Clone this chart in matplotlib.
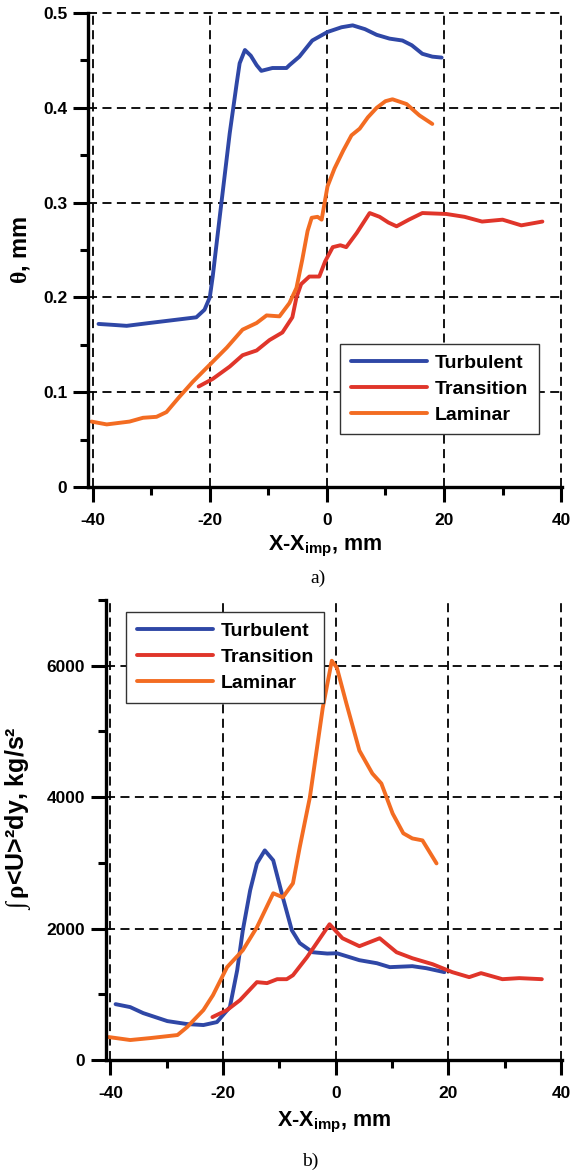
import numpy as np
import matplotlib
matplotlib.use('Agg')
import matplotlib.pyplot as plt
from matplotlib.ticker import MultipleLocator, FuncFormatter

plt.rcParams['font.family'] = ['Liberation Sans', 'DejaVu Sans']
plt.rcParams['font.weight'] = 'bold'
plt.rcParams['axes.labelweight'] = 'bold'
plt.rcParams['axes.unicode_minus'] = False
# plain parts of mixed labels bold, greek / integral thin
plt.rcParams['mathtext.fontset'] = 'custom'
plt.rcParams['mathtext.rm'] = 'Liberation Sans:bold'
plt.rcParams['mathtext.bf'] = 'Liberation Sans:bold'
plt.rcParams['mathtext.sf'] = 'Liberation Serif'
plt.rcParams['mathtext.it'] = 'Liberation Sans:italic'

labels = ['Turbulent', 'Transition', 'Laminar']
colors = ['#2f47a6', '#e0352a', '#f36c22']

# a) momentum thickness, mm
turb_a_x = [-39, -36.5, -34.2, -30.3, -26.3, -22.3, -20.9, -20.0, -19.5, -18.3, -16.6, -15.4,
            -14.9, -14.0, -13.0, -12.0, -11.2, -9.3, -6.9, -6.4, -4.7, -2.5, 0.1, 2.5, 4.4,
            6.5, 8.5, 10.7, 12.9, 14.5, 16.3, 18.0, 19.6]
turb_a_y = [0.172, 0.171, 0.170, 0.173, 0.176, 0.179, 0.187, 0.200, 0.222, 0.285, 0.373, 0.426,
            0.447, 0.461, 0.455, 0.445, 0.439, 0.442, 0.442, 0.445, 0.454, 0.471, 0.480, 0.485,
            0.487, 0.483, 0.477, 0.473, 0.471, 0.466, 0.457, 0.454, 0.453]

trans_a_x = [-21.9, -19.5, -16.6, -14.4, -12.0, -9.8, -7.6, -5.9, -5.2, -4.4, -3.0, -1.3, -0.3,
             1.0, 2.3, 3.3, 5.1, 7.3, 9.0, 10.5, 11.9, 14.0, 16.3, 20.4, 23.5, 26.5, 30.0,
             33.2, 36.8]
trans_a_y = [0.106, 0.114, 0.127, 0.139, 0.144, 0.155, 0.163, 0.179, 0.200, 0.214, 0.222, 0.222,
             0.238, 0.253, 0.255, 0.253, 0.268, 0.289, 0.285, 0.279, 0.275, 0.282, 0.289, 0.288,
             0.285, 0.280, 0.282, 0.276, 0.280]

lam_a_x = [-40.2, -37.6, -33.7, -31.4, -29.1, -27.4, -25.2, -22.9, -20.0, -17.1, -14.4, -12.0,
           -10.3, -8.1, -6.4, -5.2, -4.2, -3.3, -2.6, -1.6, -0.9, 0.1, 1.3, 2.8, 4.2, 5.6, 7.0,
           8.5, 10.0, 11.2, 13.6, 15.8, 18.0]
lam_a_y = [0.069, 0.066, 0.069, 0.073, 0.074, 0.079, 0.095, 0.111, 0.129, 0.147, 0.166, 0.173,
           0.181, 0.180, 0.194, 0.210, 0.240, 0.270, 0.284, 0.285, 0.282, 0.317, 0.336, 0.355,
           0.371, 0.378, 0.390, 0.400, 0.407, 0.409, 0.404, 0.392, 0.383]

# b) integral of rho<U>^2 dy, kg/s^2
turb_b_x = [-39.1, -36.5, -34.2, -29.9, -26.4, -23.5, -21.1, -18.8, -17.5, -16.5, -15.2, -14.0,
            -12.6, -11.1, -9.4, -7.8, -6.4, -4.1, -1.5, 0.2, 4.2, 7.3, 9.6, 13.6, 16.1, 19.3]
turb_b_y = [850, 805, 714, 592, 547, 532, 577, 805, 1367, 1975, 2582, 2992,
            3190, 3038, 2476, 1975, 1780, 1640, 1620, 1625, 1519, 1473, 1413, 1428, 1397, 1337]

trans_b_x = [-21.9, -19.3, -17.0, -14.0, -12.2, -10.4, -8.7, -7.6, -5.1, -3.4, -1.1, 1.2, 4.2,
             7.8, 10.8, 13.6, 17.2, 20.7, 23.7, 25.8, 29.6, 32.6, 36.6]
trans_b_y = [653, 760, 911, 1185, 1170, 1230, 1230, 1290, 1565, 1777, 2066, 1853, 1732,
             1853, 1640, 1549, 1458, 1337, 1261, 1322, 1230, 1246, 1230]

lam_b_x = [-40.3, -36.5, -32.9, -28.1, -26.4, -23.5, -21.8, -19.3, -16.5, -14.0, -11.1, -9.4,
           -7.6, -6.4, -4.6, -2.3, -0.7, 0.2, 1.9, 4.2, 6.5, 8.1, 10.1, 12.0, 13.6, 15.4, 17.9]
lam_b_y = [349, 304, 334, 380, 501, 760, 987, 1413, 1671, 2020, 2537, 2476,
           2689, 3236, 3995, 5362, 6076, 5970, 5423, 4709, 4360, 4208, 3752, 3450, 3372, 3342, 2992]


def style_axes(ax):
    for s in ['top', 'right']:
        ax.spines[s].set_visible(False)
    for s in ['left', 'bottom']:
        ax.spines[s].set_linewidth(2.4)
    ax.set_xlim(-40.8, 40.15)
    ax.xaxis.set_major_locator(MultipleLocator(20))
    ax.xaxis.set_minor_locator(MultipleLocator(10))
    ax.yaxis.set_major_formatter(FuncFormatter(lambda v, p: '%g' % v))
    ax.tick_params(which='major', direction='out', length=11, width=2.2, labelsize=12.5)
    ax.tick_params(which='minor', direction='out', length=6, width=2.2)
    ax.tick_params(axis='x', which='major', pad=8)
    ax.tick_params(axis='y', which='major', pad=4)
    ax.grid(True, which='major', color='k', linestyle=(0, (5, 3)), linewidth=1.3)
    ax.set_axisbelow(True)
    for gl in ax.get_xgridlines() + ax.get_ygridlines():
        gl.set_clip_on(False)
    ax.set_xlabel(r'X-X$_{\mathbf{imp}}$, mm', fontsize=15.5)


def add_legend(ax, anchor):
    leg = ax.legend(loc='upper left', bbox_to_anchor=anchor, fontsize=14, frameon=True,
                    fancybox=False, edgecolor='#333333', framealpha=1, handlelength=3.9,
                    handletextpad=0.4, labelspacing=0.42, borderpad=0.55, borderaxespad=0)
    leg.get_frame().set_linewidth(1.0)


fig = plt.figure(figsize=(5.77, 11.74), dpi=100)

ax1 = fig.add_axes([0.1525, 0.5852, 0.8215, 0.4037])
for xs, ys, lab, c in zip([turb_a_x, trans_a_x, lam_a_x], [turb_a_y, trans_a_y, lam_a_y], labels, colors):
    ax1.plot(xs, ys, color=c, lw=2.8, label=lab, solid_capstyle='round', solid_joinstyle='round')
ax1.set_ylim(0, 0.5)
ax1.yaxis.set_major_locator(MultipleLocator(0.1))
ax1.yaxis.set_minor_locator(MultipleLocator(0.05))
style_axes(ax1)
ax1.set_ylabel(r'$\mathsf{\theta}$, mm', fontsize=17)
ax1.yaxis.set_label_coords(-0.118, 0.5)
ax1.xaxis.set_label_coords(0.5, -0.1)
add_legend(ax1, (0.532, 0.302))

ax2 = fig.add_axes([0.1837, 0.0971, 0.790, 0.3918])
for xs, ys, lab, c in zip([turb_b_x, trans_b_x, lam_b_x], [turb_b_y, trans_b_y, lam_b_y], labels, colors):
    ax2.plot(xs, ys, color=c, lw=2.8, label=lab, solid_capstyle='round', solid_joinstyle='round')
ax2.set_ylim(0, 7000)
ax2.yaxis.set_major_locator(MultipleLocator(2000))
ax2.yaxis.set_minor_locator(MultipleLocator(1000))
style_axes(ax2)
ax2.set_ylabel(r'$\mathsf{\int\,\rho}$<U>²dy, kg/s²', fontsize=18)
ax2.yaxis.set_label_coords(-0.16, 0.526)
ax2.xaxis.set_label_coords(0.5, -0.108)
add_legend(ax2, (0.044, 0.974))

fig.text(318 / 577, 1 - 578 / 1174, 'a)', family='Liberation Serif', weight='normal',
         fontsize=14, ha='center', va='center')
fig.text(310 / 577, 1 - 1161 / 1174, 'b)', family='Liberation Serif', weight='normal',
         fontsize=14, ha='center', va='center')

fig.savefig('out.png', dpi=100)
